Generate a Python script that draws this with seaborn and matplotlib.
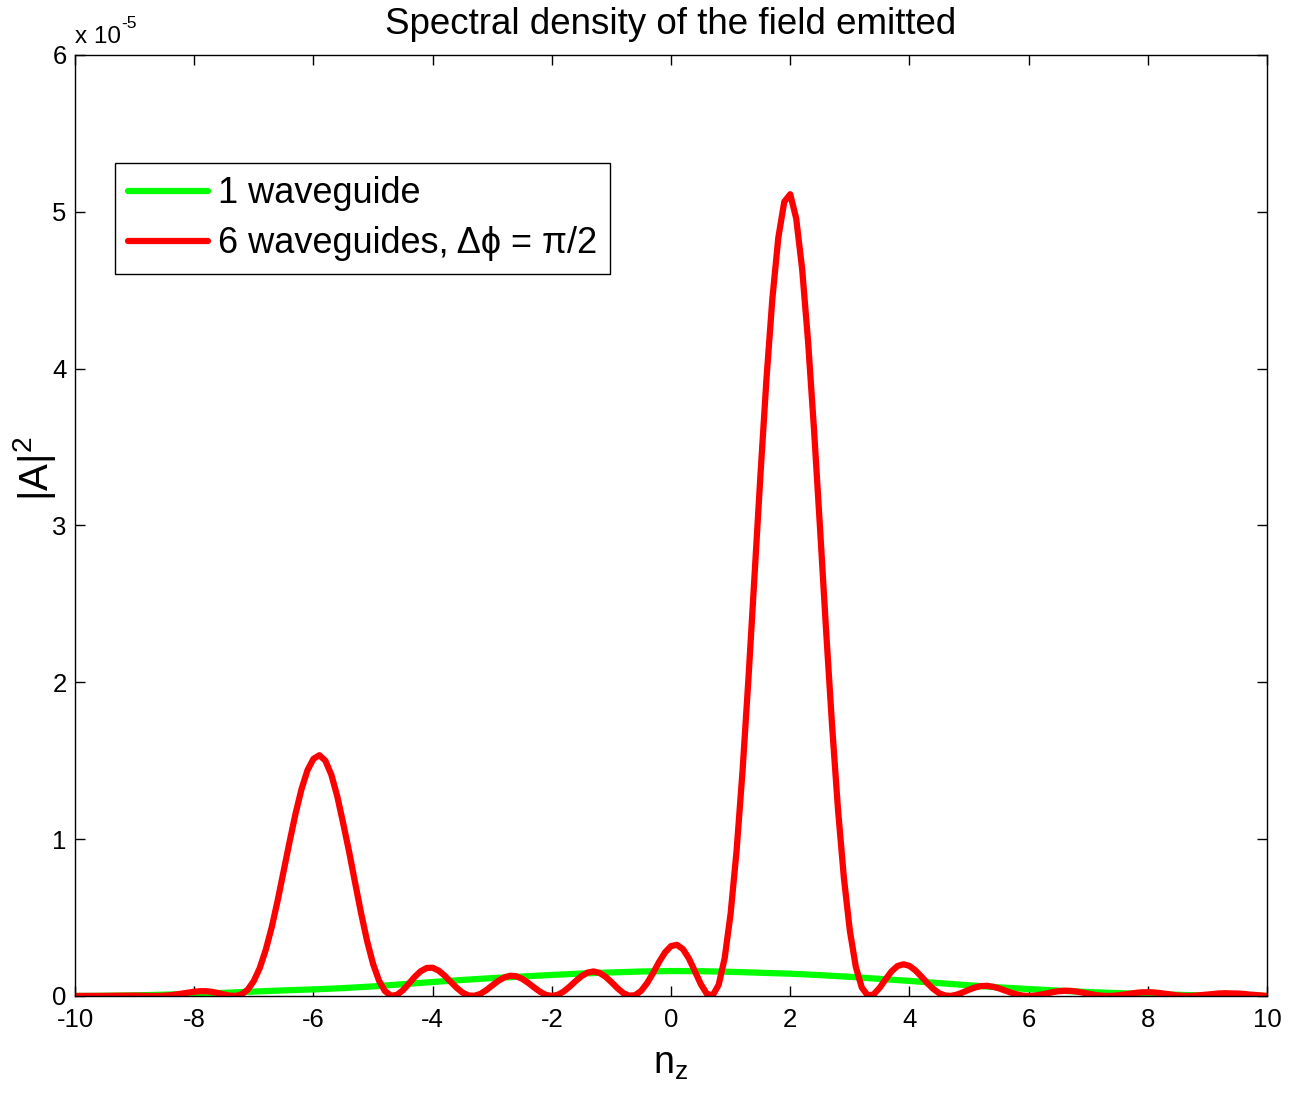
import numpy as np
import pandas as pd
import matplotlib
matplotlib.use("Agg")
import matplotlib.pyplot as plt
import seaborn as sns

# |A|^2 in units of 1e-5, sampled every 0.1 in n_z (red) and every 0.5 (green)
nz_six = np.linspace(-10, 10, 201)
six_guides = [
    0.0, 0.0, 0.0, 0.0002, 0.0004, 0.0008, 0.0013, 0.0019, 0.0024, 0.0026,
    0.0022, 0.0015, 0.0006, 0.0001, 0.0002, 0.0017, 0.0049, 0.0096, 0.0155, 0.0217,
    0.0270, 0.0304, 0.0303, 0.0263, 0.0187, 0.0095, 0.0019, 0.0006, 0.0115, 0.0411,
    0.0956, 0.179, 0.294, 0.438, 0.609, 0.796, 0.984, 1.163, 1.319, 1.439,
    1.512, 1.535, 1.500, 1.411, 1.273, 1.099, 0.917, 0.720, 0.527, 0.351,
    0.205, 0.098, 0.031, 0.0018, 0.0065, 0.0356, 0.078, 0.122, 0.158, 0.1785,
    0.180, 0.162, 0.130, 0.091, 0.053, 0.022, 0.0035, 0.0009, 0.013, 0.037,
    0.067, 0.096, 0.118, 0.129, 0.126, 0.110, 0.0845, 0.055, 0.027, 0.0072,
    0.0, 0.0074, 0.0285, 0.060, 0.095, 0.127, 0.149, 0.1565, 0.147, 0.123,
    0.088, 0.050, 0.018, 0.0012, 0.0052, 0.033, 0.083, 0.147, 0.217, 0.278,
    0.318, 0.326, 0.2985, 0.239, 0.158, 0.075, 0.014, 0.004, 0.072, 0.241,
    0.526, 0.927, 1.436, 2.029, 2.671, 3.320, 3.927, 4.445, 4.835, 5.064,
    5.112, 4.958, 4.634, 4.170, 3.606, 2.983, 2.341, 1.735, 1.197, 0.754,
    0.417, 0.186, 0.054, 0.003, 0.010, 0.052, 0.106, 0.157, 0.191, 0.202,
    0.192, 0.163, 0.124, 0.082, 0.045, 0.017, 0.0027, 0.0006, 0.0089, 0.0234,
    0.040, 0.054, 0.063, 0.0646, 0.059, 0.049, 0.035, 0.022, 0.010, 0.0025,
    0.0, 0.0023, 0.0083, 0.0163, 0.0242, 0.0302, 0.0332, 0.0326, 0.0286, 0.0221,
    0.0146, 0.0078, 0.0027, 0.0002, 0.0007, 0.0038, 0.0089, 0.0146, 0.0198, 0.0231,
    0.0240, 0.0226, 0.0190, 0.0137, 0.0082, 0.0034, 0.0006, 0.0001, 0.0020, 0.0056,
    0.0096, 0.0133, 0.0161, 0.0175, 0.0161, 0.0157, 0.0134, 0.0092, 0.0067, 0.0035, 0.0,
]

nz_one = np.linspace(-10, 10, 41)
one_guide = [
    0.0, 0.0009, 0.0038, 0.0082, 0.0135, 0.020, 0.028, 0.0355, 0.042, 0.050,
    0.061, 0.075, 0.089, 0.102, 0.114, 0.124, 0.134, 0.143, 0.150, 0.156,
    0.159, 0.158, 0.154, 0.148, 0.142, 0.133, 0.122, 0.109, 0.096, 0.082,
    0.068, 0.055, 0.044, 0.034, 0.025, 0.018, 0.012, 0.0072, 0.0028, 0.0007, 0.0,
]

labels = ["1 waveguide", "6 waveguides, \u0394\u03d5 = \u03c0/2"]
colors = ["#00ff00", "#ff0000"]

df = pd.concat([
    pd.DataFrame({"nz": nz_one, "A2": one_guide, "serie": labels[0]}),
    pd.DataFrame({"nz": nz_six, "A2": six_guides, "serie": labels[1]}),
])

sns.set_style("ticks")
plt.rcParams["font.family"] = ["Liberation Sans", "DejaVu Sans"]
plt.rcParams["mathtext.default"] = "regular"
plt.rcParams["axes.unicode_minus"] = False
for k in ["text.color", "axes.labelcolor", "xtick.color", "ytick.color", "axes.edgecolor"]:
    plt.rcParams[k] = "black"

fig = plt.figure(figsize=(13.05, 10.97), dpi=100)
ax = fig.add_axes([0.0575, 0.0921, 0.9134, 0.8578])

sns.lineplot(data=df, x="nz", y="A2", hue="serie", palette=colors,
             estimator=None, sort=False, linewidth=4.5, ax=ax)

ax.set_xlim(-10, 10)
ax.set_ylim(0, 6)
ax.set_xticks(range(-10, 11, 2))
ax.set_yticks(range(0, 7))
ax.tick_params(direction="in", length=7, width=1, labelsize=18.5,
               top=True, right=True)
ax.tick_params(axis="x", pad=9)
ax.tick_params(axis="y", pad=6)
for sp in ax.spines.values():
    sp.set_linewidth(1)

ax.set_title("Spectral density of the field emitted", fontsize=26.5, pad=15)
ax.set_xlabel("$n_z$", fontsize=27, labelpad=10)
ax.set_ylabel("$|A|^2$", fontsize=29)
ax.yaxis.set_label_coords(-0.014, 0.56)

base = ax.text(0.0, 1.013, "x 10", transform=ax.transAxes, fontsize=17.5,
               ha="left", va="baseline")
ax.annotate("-5", xy=(1.0, 0.75), xycoords=base, fontsize=12.5,
            ha="left", va="bottom")

leg = ax.legend(loc="upper left", bbox_to_anchor=(0.0336, 0.885), fontsize=26,
                frameon=True, fancybox=False, framealpha=1, edgecolor="black",
                borderaxespad=0, handlelength=2.2, handletextpad=0.28,
                borderpad=0.36, labelspacing=0.42, title=None)
leg.get_frame().set_linewidth(1)

fig.savefig("out.png", dpi=100)
